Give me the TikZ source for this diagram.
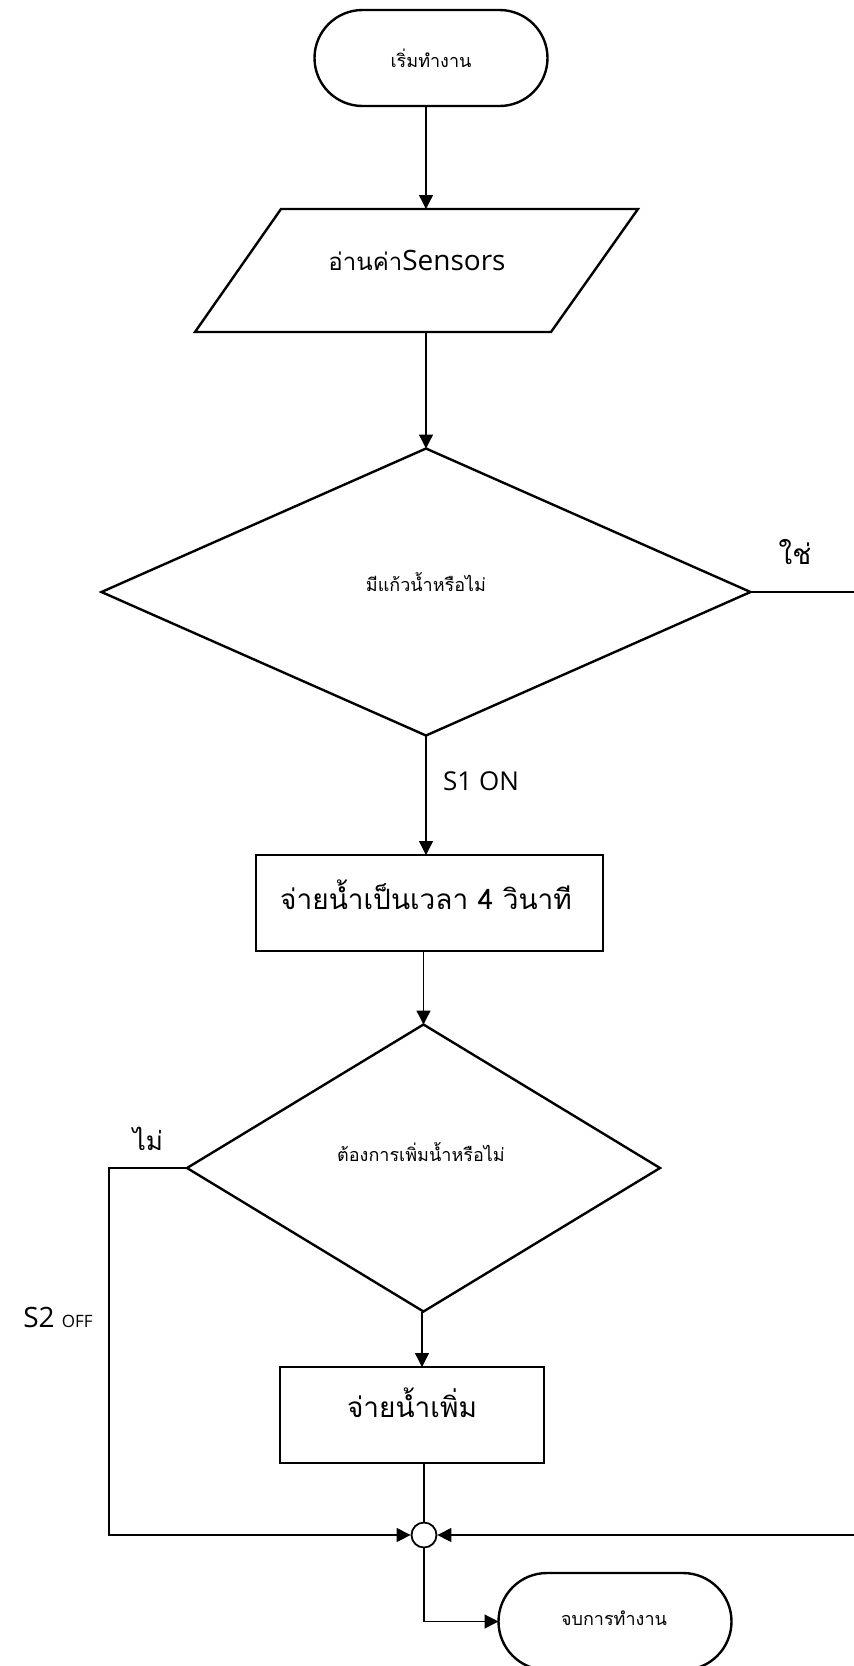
\documentclass[tikz,border=0pt]{standalone}
\usepackage{fontspec}
\setmainfont{Open Sans}
\newfontfamily\thai[Script=Thai]{Loma}
\usetikzlibrary{shapes.geometric,shapes.misc,arrows.meta,calc}

\begin{document}
\begin{tikzpicture}[x=1pt,y=-1pt,
  shapebox/.style={draw=black,line width=2.4pt,inner sep=0pt,outer sep=0pt},
  term/.style={shapebox,rounded rectangle,minimum width=233pt,minimum height=96pt},
  proc/.style={shapebox,rectangle,minimum height=96pt},
  decide/.style={shapebox,diamond},
  conn/.style={line width=1.3pt},
  arr/.style={conn,-{Triangle[length=14pt,width=14pt]}},
  txt/.style={inner sep=0pt,anchor=center},
  thsmall/.style={txt,font=\thai\fontsize{18}{21}\selectfont},
  thbig/.style={txt,font=\thai\fontsize{28}{32}\selectfont},
  lat/.style={txt,font=\fontsize{26}{30}\selectfont}]

\useasboundingbox (0,0) rectangle (854,1666);
\clip (0,0) rectangle (854,1666);

% input parallelogram, with the points where its connectors meet it
\coordinate (readNW) at (281,209);
\coordinate (readNE) at (638,209);
\coordinate (readSE) at (551,332);
\coordinate (readSW) at (195,332);
\draw[shapebox,line join=miter] (readNW) -- (readNE) -- (readSE) -- (readSW) -- cycle;
\coordinate (readN) at (426,209);
\coordinate (readS) at (426,332);

% other shapes
\node[term] (start) at (431,58) {};
\node[decide,minimum width=649pt,minimum height=287pt] (dec1) at (426,592) {};
\node[proc,minimum width=347pt] (pour) at (429.5,903) {};
\node[decide,minimum width=473pt,minimum height=287pt] (dec2) at (423.5,1168) {};
\node[proc,minimum width=264pt] (more) at (412,1415) {};
\node[circle,draw=black,line width=1.8pt,minimum size=25pt,inner sep=0pt] (join) at (424,1535) {};
\node[term,minimum height=97pt] (stop) at (615,1621.5) {};

% texts
\node[thsmall] (startT) at (431,58) {เริ่มทำงาน};
\node[txt] (readT) at (417,260) {{\thai\fontsize{24}{28}\selectfont อ่านค่า}{\fontsize{28}{32}\selectfont Sensors}};
\node[thsmall] (dec1T) at (426,582) {มีแก้วน้ำหรือไม่};
\node[thbig] (pourT) at (426,895) {จ่ายน้ำเป็นเวลา 4 วินาที};
\node[thsmall] (dec2T) at (421,1152) {ต้องการเพิ่มน้ำหรือไม่};
\node[thbig] (moreT) at (412,1403) {จ่ายน้ำเพิ่ม};
\node[thsmall] (stopT) at (614,1618) {จบการทำงาน};

% branch labels
\node[thbig] (yesT) at (795,552) {ใช่};
\node[txt,font=\thai\fontsize{26}{30}\selectfont] (noT) at (148,1139) {ไม่};
\node[lat] (s1T) at (481,781) {S1 ON};
\node[txt] (s2T) at (58,1317) {\fontsize{28}{30}\selectfont S2 \fontsize{17}{20}\selectfont OFF};

% turning points of the side branches
\coordinate (yesA) at (870,592);
\coordinate (yesB) at (870,1535);
\coordinate (noA) at (109,1168);
\coordinate (noB) at (109,1535);
\coordinate (endTurn) at (424,1621.5);

% connectors
\draw[arr] (start.south -| readN) -- (readN);
\draw[arr] (readS) -- (dec1.north);
\draw[arr] (dec1.south) -- (pour.north -| dec1.south);
\draw[arr] (pour.south -| dec2.north) -- (dec2.north);
\draw[arr] (dec2.south -| 422,0) -- (more.north -| 422,0);
\draw[conn] (more.south -| join.north) -- (join.north);
\draw[arr] (dec1.east) -- (yesA) -- (yesB) -- (join.east);
\draw[arr] (dec2.west) -- (noA) -- (noB) -- (join.west);
\draw[arr] (join.south) -- (endTurn) -- (stop.west);
\end{tikzpicture}
\end{document}
